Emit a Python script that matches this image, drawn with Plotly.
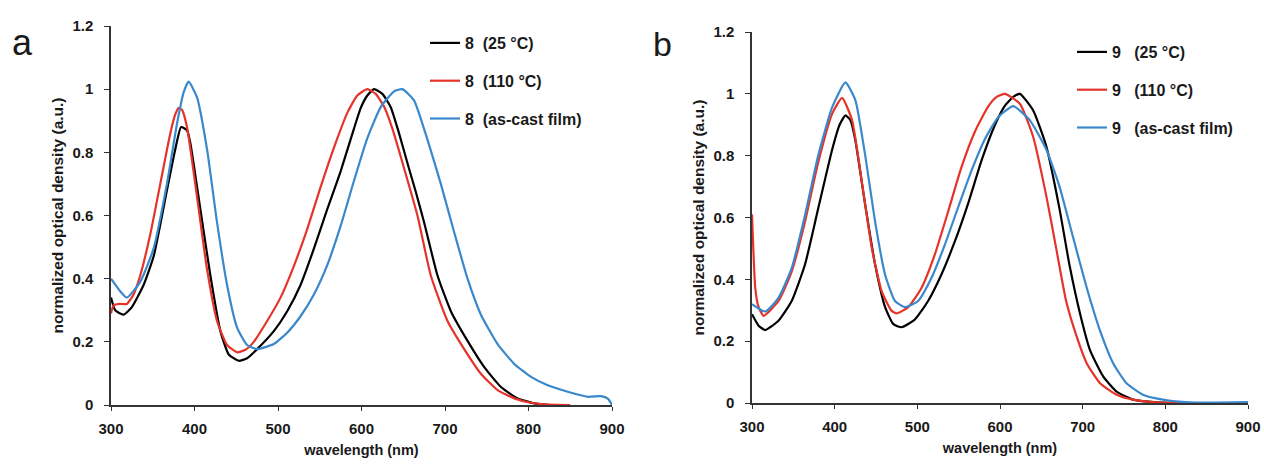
import plotly.graph_objects as go

# ---------------- data ----------------
# Panel a : compound 8
a_black_x = [300, 305, 315, 325, 339, 351, 367, 377, 384, 391, 395, 407, 419, 431, 441, 453, 463, 475, 495, 511,
             527, 543, 559, 575, 591, 599, 607, 615, 625, 635, 645, 655, 665, 675, 691, 707, 727, 747, 767, 787, 807, 825]
a_black_y = [0.34, 0.30, 0.286, 0.31, 0.38, 0.47, 0.68, 0.81, 0.88, 0.87, 0.83, 0.62, 0.41, 0.234, 0.16, 0.14, 0.148,
             0.177, 0.234, 0.297, 0.38, 0.495, 0.62, 0.74, 0.875, 0.94, 0.98, 1.0, 0.985, 0.943, 0.86, 0.766, 0.675,
             0.578, 0.41, 0.297, 0.203, 0.12, 0.057, 0.021, 0.005, 0.0]

a_red_x = [300, 303, 310, 319, 327, 335, 347, 359, 371, 377, 381, 385, 391, 403, 415, 427, 439, 451, 461, 471, 487,
           503, 519, 535, 551, 567, 583, 595, 607, 617, 627, 637, 647, 667, 683, 703, 723, 743, 763, 783, 803, 825, 850]
a_red_y = [0.29, 0.315, 0.32, 0.32, 0.35, 0.41, 0.54, 0.70, 0.86, 0.92, 0.94, 0.935, 0.88, 0.66, 0.43, 0.266, 0.19,
           0.167, 0.175, 0.20, 0.266, 0.34, 0.44, 0.557, 0.69, 0.815, 0.925, 0.98, 1.0, 0.985, 0.945, 0.875, 0.786,
           0.60, 0.41, 0.266, 0.177, 0.099, 0.047, 0.021, 0.007, 0.001, 0.0]

a_blue_x = [300, 311, 319, 335, 351, 367, 379, 387, 393, 403, 415, 427, 439, 451, 463, 475, 495, 511, 527, 543, 559,
            575, 591, 607, 623, 639, 649, 663, 679, 695, 711, 727, 743, 763, 783, 803, 823, 847, 871, 887, 895, 900]
a_blue_y = [0.40, 0.36, 0.34, 0.39, 0.495, 0.70, 0.89, 0.99, 1.024, 0.974, 0.81, 0.578, 0.38, 0.245, 0.19, 0.177,
            0.193, 0.229, 0.281, 0.35, 0.443, 0.567, 0.71, 0.845, 0.943, 0.993, 1.0, 0.964, 0.84, 0.70, 0.547,
            0.40, 0.286, 0.193, 0.13, 0.089, 0.0625, 0.042, 0.026, 0.028, 0.02, 0.0]

# Panel b : compound 9
b_black_x = [300, 308, 316, 332, 348, 364, 380, 397, 406, 413, 419, 425, 437, 449, 461, 471, 481, 497, 513, 529, 545,
             562, 578, 594, 606, 616, 624, 640, 656, 672, 684, 697, 709, 725, 741, 761, 790, 830, 900]
b_black_y = [0.287, 0.25, 0.236, 0.266, 0.33, 0.447, 0.628, 0.82, 0.90, 0.93, 0.915, 0.85, 0.64, 0.447, 0.31, 0.255,
             0.245, 0.27, 0.33, 0.415, 0.52, 0.65, 0.787, 0.90, 0.962, 0.99, 1.0, 0.947, 0.83, 0.628, 0.447, 0.287,
             0.17, 0.085, 0.037, 0.011, 0.002, 0.0, 0.0]

b_red_x = [300, 304, 308, 314, 332, 348, 364, 380, 397, 409, 421, 433, 445, 457, 469, 475, 489, 505, 521, 537, 553,
           570, 586, 596, 606, 624, 640, 656, 668, 680, 693, 705, 721, 741, 761, 790, 830, 900]
b_red_y = [0.61, 0.37, 0.31, 0.282, 0.33, 0.425, 0.585, 0.777, 0.936, 0.987, 0.915, 0.713, 0.50, 0.36, 0.298, 0.29,
           0.31, 0.372, 0.479, 0.617, 0.76, 0.88, 0.96, 0.99, 1.0, 0.968, 0.862, 0.67, 0.50, 0.33, 0.213, 0.128,
           0.064, 0.027, 0.011, 0.002, 0.0, 0.0]

b_blue_x = [300, 316, 332, 348, 364, 380, 397, 413, 425, 437, 449, 461, 473, 485, 501, 517, 533, 550, 566, 582, 598,
            616, 636, 656, 672, 688, 705, 721, 737, 753, 773, 797, 829, 900]
b_blue_y = [0.32, 0.296, 0.34, 0.436, 0.606, 0.80, 0.957, 1.037, 0.98, 0.80, 0.585, 0.415, 0.33, 0.31, 0.33, 0.404,
            0.51, 0.638, 0.755, 0.855, 0.925, 0.96, 0.915, 0.82, 0.70, 0.54, 0.372, 0.234, 0.128, 0.064, 0.027,
            0.011, 0.002, 0.003]

x_ticks = [300, 400, 500, 600, 700, 800, 900]
y_ticks = [0, 0.2, 0.4, 0.6, 0.8, 1.0, 1.2]
y_tick_text = ["0", "0.2", "0.4", "0.6", "0.8", "1", "1.2"]

names_a = ["8\u00a0\u00a0(25 °C)", "8\u00a0\u00a0(110 °C)", "8\u00a0\u00a0(as-cast film)"]
names_b = ["9\u00a0\u00a0\u00a0(25 °C)", "9\u00a0\u00a0\u00a0(110 °C)", "9\u00a0\u00a0\u00a0(as-cast film)"]
colors = ["#000000", "#e5332a", "#3a88cc"]

x_title = "wavelength (nm)"
y_title = "normalized optical density (a.u.)"
panel_labels = ["a", "b"]

# ---------------- figure ----------------
FONT = "Liberation Sans, Arial, Helvetica, sans-serif"
fig = go.Figure()

series_a = [(a_black_x, a_black_y), (a_red_x, a_red_y), (a_blue_x, a_blue_y)]
series_b = [(b_black_x, b_black_y), (b_red_x, b_red_y), (b_blue_x, b_blue_y)]

for i, (xs, ys) in enumerate(series_a):
    fig.add_trace(go.Scatter(x=xs, y=ys, mode="lines", name=names_a[i],
                             line=dict(color=colors[i], width=2.2, shape="spline", smoothing=0.5),
                             xaxis="x", yaxis="y", legend="legend", legendgroup=f"a{i}"))
for i, (xs, ys) in enumerate(series_b):
    fig.add_trace(go.Scatter(x=xs, y=ys, mode="lines", name=names_b[i],
                             line=dict(color=colors[i], width=2.2, shape="spline", smoothing=0.5),
                             xaxis="x2", yaxis="y2", legend="legend2", legendgroup=f"b{i}"))

W, H = 1264, 464
tickfont = dict(family=FONT, size=15, color="#1a1a1a", weight="bold")
titlefont = dict(family=FONT, size=14.5, color="#1a1a1a", weight="bold")


def xaxis_cfg(x0, x1):
    return dict(domain=[x0 / W, x1 / W], range=[300, 900], tickvals=x_ticks, showline=True,
                linecolor="#333333", linewidth=1.5, ticks="outside", ticklen=4, tickcolor="#333333",
                tickwidth=1.3, showgrid=False, zeroline=False, tickfont=tickfont, ticklabelstandoff=5,
                automargin=False, title=dict(text=x_title, font=titlefont, standoff=9))


def yaxis_cfg(y_bottom, y_top, anchor):
    return dict(domain=[(H - y_bottom) / H, (H - y_top) / H], range=[0, 1.2], tickvals=y_ticks,
                ticktext=y_tick_text, showline=True, linecolor="#333333", linewidth=1.5, ticks="outside",
                ticklen=5, tickcolor="#333333", tickwidth=1.3, showgrid=False, zeroline=False,
                tickfont=tickfont, ticklabelstandoff=8, anchor=anchor, automargin=False,
                title=dict(text=y_title, font=dict(family=FONT, size=15.5, color="#1a1a1a", weight="bold"),
                           standoff=5))


legend_font = dict(family=FONT, size=16, color="#1a1a1a", weight="bold")

fig.update_layout(
    width=W, height=H, margin=dict(l=0, r=0, t=0, b=0),
    paper_bgcolor="white", plot_bgcolor="white",
    xaxis=dict(**xaxis_cfg(111, 612), anchor="y"),
    yaxis=yaxis_cfg(405, 26, "x"),
    xaxis2=dict(**xaxis_cfg(752, 1248), anchor="y2"),
    yaxis2=yaxis_cfg(403, 32, "x2"),
    legend=dict(x=425 / W, y=1 - 26 / H, xanchor="left", yanchor="top", bgcolor="rgba(0,0,0,0)",
                font=legend_font, tracegroupgap=14, itemwidth=30),
    legend2=dict(x=1072 / W, y=1 - 35 / H, xanchor="left", yanchor="top", bgcolor="rgba(0,0,0,0)",
                 font=legend_font, tracegroupgap=14, itemwidth=30),
    annotations=[
        dict(text=panel_labels[0], x=22 / W, y=1 - 43 / H, xref="paper", yref="paper", showarrow=False,
             xanchor="center", yanchor="middle", font=dict(family=FONT, size=36, color="#1a1a1a")),
        dict(text=panel_labels[1], x=662 / W, y=1 - 44 / H, xref="paper", yref="paper", showarrow=False,
             xanchor="center", yanchor="middle", font=dict(family=FONT, size=34, color="#1a1a1a")),
    ],
)

fig.write_html("out.html")
